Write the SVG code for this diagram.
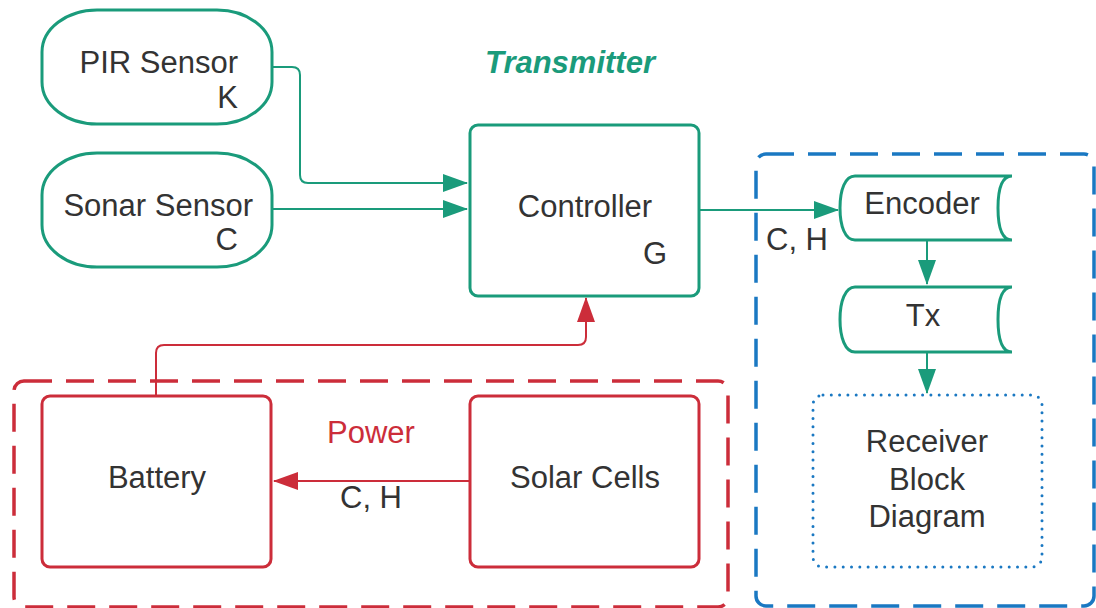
<svg xmlns="http://www.w3.org/2000/svg" width="1096" height="608" viewBox="0 0 1096 608">
<style>
.t{font-family:"Liberation Sans",Arial,sans-serif;font-size:31px;fill:#333333}
.m{text-anchor:middle}
.e{text-anchor:end}
.g{fill:#ffffff;stroke:#1a9b7b;stroke-width:3}
.r{fill:#ffffff;stroke:#cc2d3a;stroke-width:3}
.cg{fill:none;stroke:#1a9b7b;stroke-width:2}
.cr{fill:none;stroke:#cc2d3a;stroke-width:2}
</style>
<defs>
<marker id="ag" markerUnits="userSpaceOnUse" markerWidth="25" markerHeight="18" refX="24" refY="9" orient="auto">
<path d="M0,0 L25,9 L0,18 Z" fill="#1a9b7b"/>
</marker>
<marker id="ar" markerUnits="userSpaceOnUse" markerWidth="25" markerHeight="18" refX="24" refY="9" orient="auto">
<path d="M0,0 L25,9 L0,18 Z" fill="#cc2d3a"/>
</marker>
</defs>
<rect width="1096" height="608" fill="#ffffff"/>

<g id="power-group">
<rect x="14" y="381" width="714" height="226" rx="10" fill="none" stroke="#cc2d3a" stroke-width="3.5" stroke-dasharray="28 14"/>
<text class="t m" x="371" y="443" style="fill:#cc2d3a">Power</text>
</g>
<g id="receiver-group">
<rect x="756" y="154" width="338" height="452" rx="10" fill="none" stroke="#1a78c2" stroke-width="3.5" stroke-dasharray="28 14"/>
</g>
<text id="transmitter-label" class="t" x="485" y="73" style="fill:#1a9b7b;font-weight:bold;font-style:italic">Transmitter</text>

<g id="connectors">
<path class="cg" d="M272,67 H292 Q300,67 300,75 V175 Q300,183 308,183 H467" marker-end="url(#ag)"/>
<path class="cg" d="M272,209 H467" marker-end="url(#ag)"/>
<path class="cg" d="M699,210 H838" marker-end="url(#ag)"/>
<text class="t" x="766" y="250">C, H</text>
<path class="cg" d="M927,240 V284" marker-end="url(#ag)"/>
<path class="cg" d="M927,352 V393" marker-end="url(#ag)"/>
<path class="cr" d="M470,481 H274" marker-end="url(#ar)"/>
<text class="t m" x="371" y="508">C, H</text>
<path class="cr" d="M156,396 V353 Q156,345 164,345 H578 Q586,345 586,337 V298" marker-end="url(#ar)"/>
</g>

<g id="pir-sensor">
<rect class="g" x="42" y="10" width="230" height="114" rx="55" ry="42"/>
<text class="t e" x="238" y="73">PIR Sensor</text>
<text class="t e" x="238" y="108">K</text>
</g>
<g id="sonar-sensor">
<rect class="g" x="42" y="153" width="230" height="114" rx="55" ry="42"/>
<text class="t e" x="253" y="216">Sonar Sensor</text>
<text class="t e" x="238" y="250">C</text>
</g>
<g id="controller">
<rect class="g" x="470" y="125" width="229" height="171" rx="8"/>
<text class="t m" x="585" y="217">Controller</text>
<text class="t e" x="667" y="264">G</text>
</g>
<g id="encoder">
<path class="g" d="M855,176 H1012 C1001,176 998,190 998,208 C998,226 1001,240 1012,240 H855 C845,240 840,226 840,208 C840,190 845,176 855,176 Z"/>
<text class="t m" x="922" y="214">Encoder</text>
</g>
<g id="tx">
<path class="g" d="M855,287 H1012 C1001,287 998,302 998,319.5 C998,337 1001,352 1012,352 H855 C845,352 840,337 840,319.5 C840,302 845,287 855,287 Z"/>
<text class="t m" x="923" y="326">Tx</text>
</g>
<g id="receiver-block">
<rect x="813" y="395" width="229" height="172" rx="10" fill="#ffffff" stroke="#1a78c2" stroke-width="3" stroke-linecap="round" stroke-dasharray="0 8.3"/>
<text class="t m" x="927" y="452">Receiver</text>
<text class="t m" x="927" y="490">Block</text>
<text class="t m" x="927" y="527">Diagram</text>
</g>
<g id="battery">
<rect class="r" x="42" y="396" width="229" height="171" rx="8"/>
<text class="t m" x="157" y="488">Battery</text>
</g>
<g id="solar-cells">
<rect class="r" x="470" y="396" width="229" height="171" rx="8"/>
<text class="t m" x="585" y="488">Solar Cells</text>
</g>
</svg>
